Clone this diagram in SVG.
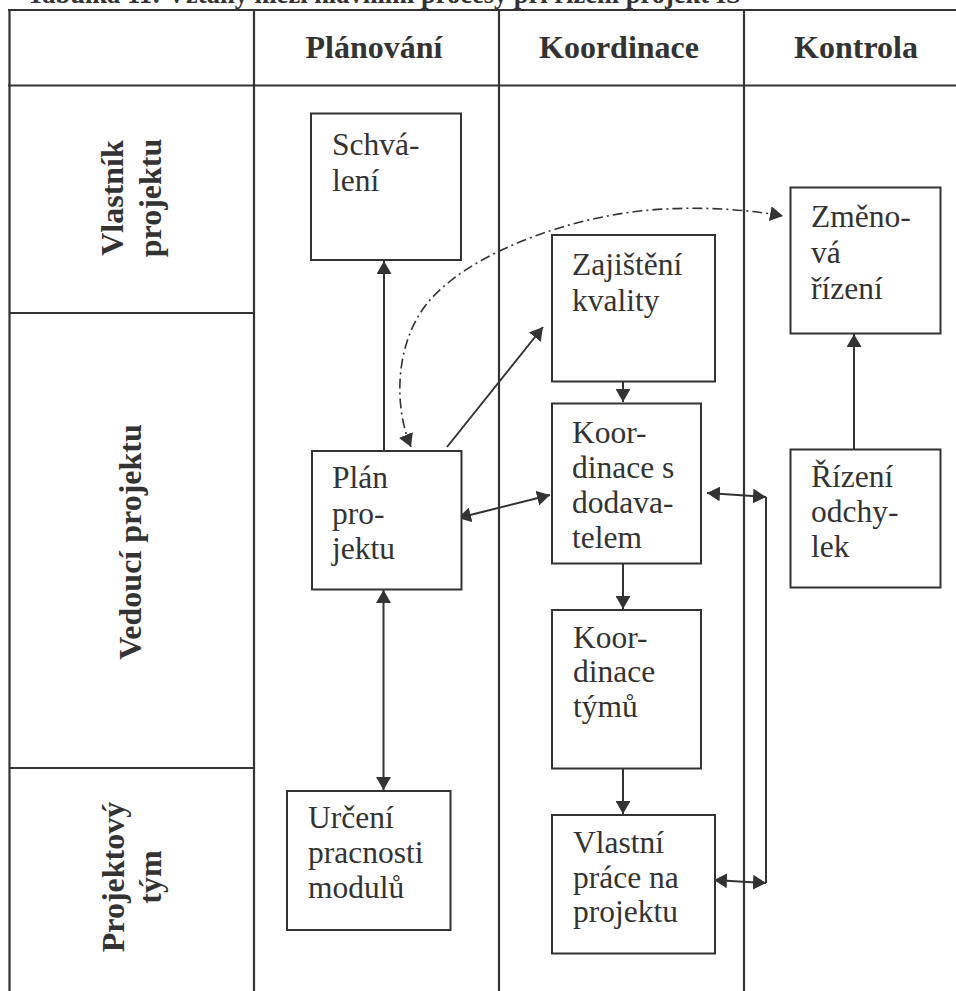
<svg xmlns="http://www.w3.org/2000/svg" width="956" height="991" viewBox="0 0 956 991">
<style>
.grid{stroke:#333;stroke-width:2.2;fill:none}
.box{fill:#fff;stroke:#333;stroke-width:2}
.t{font-family:"Liberation Serif","Times New Roman",serif;font-size:31.5px;fill:#333}
.h{font-family:"Liberation Serif","Times New Roman",serif;font-size:32px;font-weight:bold;fill:#333}
.title{font-family:"Liberation Serif","Times New Roman",serif;font-size:26.5px;font-weight:bold;fill:#333}
.c{stroke:#333;stroke-width:2;fill:none}
.dd{stroke:#333;stroke-width:1.6;fill:none;stroke-dasharray:10,4,2,4}
</style>
<defs>
<marker id="ah" markerUnits="userSpaceOnUse" markerWidth="14" markerHeight="15" refX="13" refY="7.5" orient="auto-start-reverse" viewBox="0 0 14 15">
<path d="M0,0 L13,7.5 L0,15 z" fill="#333"/>
</marker>
</defs>
<rect width="956" height="991" fill="#fff"/>
<text class="title" x="27" y="3">Tabulka 11: Vztahy mezi hlavními procesy při řízení projekt IS</text>
<g id="table">
<path class="grid" d="M8,10 H960 M8,85.5 H960 M9.5,10 V995 M254,10 V995 M499,10 V995 M744,10 V995 M9.5,313 H254 M9.5,768 H254"/>
<text class="h" x="374" y="58" text-anchor="middle">Plánování</text>
<text class="h" x="619" y="58" text-anchor="middle">Koordinace</text>
<text class="h" x="856" y="58" text-anchor="middle">Kontrola</text>
<text class="h" text-anchor="middle" transform="translate(123,198) rotate(-90)">Vlastník</text>
<text class="h" text-anchor="middle" transform="translate(161,198) rotate(-90)">projektu</text>
<text class="h" text-anchor="middle" transform="translate(141,542) rotate(-90)">Vedoucí projektu</text>
<text class="h" text-anchor="middle" transform="translate(124,877) rotate(-90)">Projektový</text>
<text class="h" text-anchor="middle" transform="translate(161,877) rotate(-90)">tým</text>
</g>
<g id="connectors">
<path class="c" d="M384,450 L384,261" marker-end="url(#ah)"/>
<path class="c" d="M447,447 L543,327" marker-end="url(#ah)"/>
<path class="dd" d="M411,447 C393,405 395,340 430,300 C465,260 540,228 613,215 C673,204 740,208 783,216" marker-start="url(#ah)" marker-end="url(#ah)"/>
<path class="c" d="M623,378 L623,402" marker-end="url(#ah)"/>
<path class="c" d="M458,518 L550,495" marker-start="url(#ah)" marker-end="url(#ah)"/>
<path class="c" d="M623,563 L623,609" marker-end="url(#ah)"/>
<path class="c" d="M623,768 L623,814" marker-end="url(#ah)"/>
<path class="c" d="M383.5,590 L383.5,790" marker-start="url(#ah)" marker-end="url(#ah)"/>
<path class="c" d="M854,449 L854,334" marker-end="url(#ah)"/>
<path class="c" d="M707,493 L766,497" marker-start="url(#ah)" marker-end="url(#ah)"/>
<path class="c" d="M766,497 L766,883"/>
<path class="c" d="M714,880 L766,883" marker-start="url(#ah)" marker-end="url(#ah)"/>
</g>
<g id="schvaleni">
<rect class="box" x="311" y="113.5" width="150" height="146.5"/>
<text class="t" x="332" y="155">Schvá-<tspan x="332" y="191">lení</tspan></text>
</g>
<g id="zmenove-rizeni">
<rect class="box" x="790.5" y="187.5" width="150" height="146"/>
<text class="t" x="811" y="227">Změno-<tspan x="811" y="263">vá</tspan><tspan x="811" y="299">řízení</tspan></text>
</g>
<g id="zajisteni-kvality">
<rect class="box" x="552" y="235" width="163" height="146.5"/>
<text class="t" x="572" y="275">Zajištění<tspan x="572" y="311">kvality</tspan></text>
</g>
<g id="koordinace-dodavatel">
<rect class="box" x="552" y="403.5" width="149" height="160"/>
<text class="t" x="572" y="443">Koor-<tspan x="572" y="478">dinace s</tspan><tspan x="572" y="513">dodava-</tspan><tspan x="572" y="548">telem</tspan></text>
</g>
<g id="plan-projektu">
<rect class="box" x="312" y="451" width="149.5" height="138.5"/>
<text class="t" x="332" y="488">Plán<tspan x="332" y="524">pro-</tspan><tspan x="332" y="559">jektu</tspan></text>
</g>
<g id="rizeni-odchylek">
<rect class="box" x="790.5" y="449.5" width="150" height="138"/>
<text class="t" x="811" y="487">Řízení<tspan x="811" y="522">odchy-</tspan><tspan x="811" y="557">lek</tspan></text>
</g>
<g id="koordinace-tymu">
<rect class="box" x="552" y="610" width="149" height="158.5"/>
<text class="t" x="573" y="648">Koor-<tspan x="573" y="682">dinace</tspan><tspan x="573" y="717">týmů</tspan></text>
</g>
<g id="urceni-pracnosti">
<rect class="box" x="287" y="791" width="163.5" height="139"/>
<text class="t" x="308" y="828">Určení<tspan x="308" y="863">pracnosti</tspan><tspan x="308" y="898">modulů</tspan></text>
</g>
<g id="vlastni-prace">
<rect class="box" x="552" y="815" width="163" height="138.5"/>
<text class="t" x="573" y="853">Vlastní<tspan x="573" y="888">práce na</tspan><tspan x="573" y="922">projektu</tspan></text>
</g>
</svg>
